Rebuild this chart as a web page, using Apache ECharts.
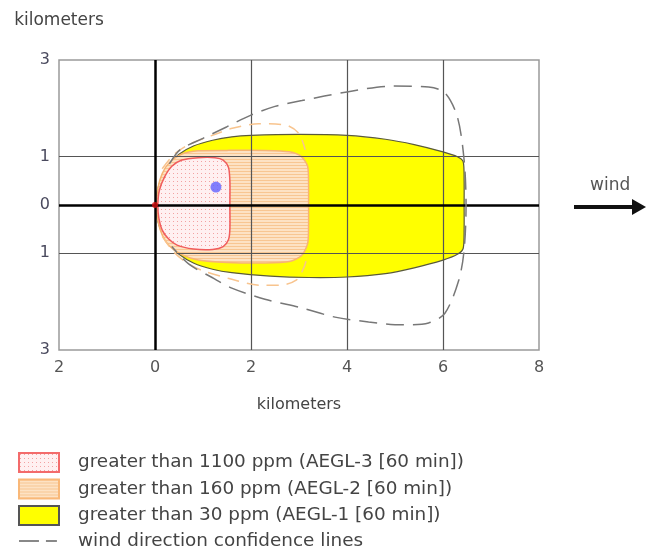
<!DOCTYPE html>
<html><head><meta charset="utf-8">
<script src="https://cdn.jsdelivr.net/npm/echarts@6/dist/echarts.min.js"></script>
<style>html,body{margin:0;padding:0;background:#fff}#c{width:646px;height:549px}</style>
</head><body><div id="c"></div>
<script>
// ---- data ----
const xTicks = [-2, 0, 2, 4, 6, 8];
const xTickLabels = ['2', '0', '2', '4', '6', '8'];
const yTicks = [3, 1, 0, -1, -3];
const yTickLabels = ['3', '1', '0', '1', '3'];
const xAxisTitle = 'kilometers';
const yAxisTitle = 'kilometers';
const windLabel = 'wind';
const legendNames = [
  'greater than 1100 ppm (AEGL-3 [60 min])',
  'greater than 160 ppm (AEGL-2 [60 min])',
  'greater than 30 ppm (AEGL-1 [60 min])',
  'wind direction confidence lines'
];
const aegl3Zone = [[0.06,0],[0.09,0.3],[0.2,0.58],[0.35,0.8],[0.56,0.93],[0.9,0.98],[1.25,0.98],[1.42,0.93],[1.53,0.78],[1.56,0.5],[1.56,0],[1.56,-0.5],[1.53,-0.72],[1.42,-0.86],[1.2,-0.92],[0.8,-0.91],[0.46,-0.83],[0.28,-0.7],[0.15,-0.52],[0.08,-0.27]];
const aegl2Zone = [[0.03,0],[0.06,0.35],[0.15,0.65],[0.3,0.88],[0.55,1.05],[0.9,1.12],[1.5,1.13],[2.3,1.13],[2.8,1.1],[3.05,1.0],[3.18,0.8],[3.2,0.4],[3.2,0],[3.2,-0.4],[3.18,-0.8],[3.05,-1.05],[2.8,-1.17],[2.3,-1.2],[1.5,-1.19],[0.9,-1.14],[0.55,-1.02],[0.3,-0.85],[0.15,-0.62],[0.06,-0.33]];
const aegl1Zone = [[0.02,0],[0.05,0.3],[0.15,0.6],[0.3,0.85],[0.5,1.05],[0.8,1.22],[1.2,1.34],[1.6,1.41],[2,1.44],[3,1.46],[4,1.44],[4.8,1.36],[5.4,1.25],[6.0,1.1],[6.3,1.0],[6.42,0.9],[6.44,0.5],[6.44,0],[6.44,-0.5],[6.42,-0.9],[6.3,-1.02],[6.0,-1.14],[5.4,-1.3],[4.8,-1.42],[4,-1.49],[3.2,-1.5],[2.4,-1.47],[1.6,-1.4],[1.2,-1.33],[0.8,-1.2],[0.5,-1.02],[0.3,-0.82],[0.15,-0.58],[0.05,-0.3]];
const windConfidence = [[0.3,0.85],[0.52,1.14],[1.0,1.38],[1.5,1.62],[2.0,1.86],[2.5,2.04],[3.06,2.16],[4.0,2.34],[4.94,2.46],[5.7,2.44],[6.04,2.32],[6.3,1.82],[6.44,0.93],[6.48,0],[6.44,-0.93],[6.33,-1.55],[6.04,-2.24],[5.7,-2.44],[5.15,-2.48],[4.45,-2.42],[3.75,-2.32],[3.06,-2.13],[2.29,-1.95],[1.6,-1.72],[1.19,-1.5],[0.7,-1.22],[0.35,-0.86]];
const aegl2ConfidenceTop = [[0.15,0.75],[0.4,1.05],[0.7,1.25],[1.0,1.37],[1.33,1.49],[1.54,1.57],[2.16,1.68],[2.7,1.66],[2.99,1.49],[3.13,1.14]];
const aegl2ConfidenceBottom = [[0.15,-0.65],[0.4,-0.98],[0.7,-1.22],[1.0,-1.36],[1.54,-1.52],[2.2,-1.66],[2.6,-1.66],[2.95,-1.55],[3.1,-1.3],[3.15,-1.15]];
const sourcePoint = [[0, 0]];
const receptorPoint = [[1.27, 0.37]];
const gridXLines = [2, 4, 6];
const gridYLines = [1, -1];

// ---- patterns ----
function makePattern(w, h, bg, draw) {
  const c = document.createElement('canvas');
  c.width = w; c.height = h;
  const g = c.getContext('2d');
  g.fillStyle = bg; g.fillRect(0, 0, w, h);
  draw(g);
  return { image: c, repeat: 'repeat' };
}
const pinkPattern = makePattern(4, 4, '#fff0f1', g => { g.fillStyle = '#f3a2a2'; g.fillRect(1, 1, 1, 1); });
const orangePattern = makePattern(4, 3, '#fde2c4', g => { g.fillStyle = '#f8c692'; g.fillRect(0, 0, 4, 1); });

const FONT = 'DejaVu Sans';

function zoneSeries(name, pts, fill, stroke, lw, z) {
  return {
    type: 'custom', name: name, z: z, data: pts, encode: { x: 0, y: 1 },
    itemStyle: { color: fill, borderColor: stroke },
    renderItem: function (params, api) {
      if (params.dataIndex !== 0) return null;
      const points = pts.map(p => api.coord(p));
      return { type: 'polygon', shape: { points: points, smooth: 0.25 },
        style: { fill: fill, stroke: stroke, lineWidth: lw } };
    }
  };
}

const chart = echarts.init(document.getElementById('c'), null, { renderer: 'canvas' });
chart.setOption({
  animation: false,
  backgroundColor: '#fff',
  grid: { left: 59, right: 107, top: 60, bottom: 199, show: true, borderColor: '#9a9a9a', borderWidth: 1.5, backgroundColor: 'transparent' },
  xAxis: {
    type: 'value', min: -2, max: 8, interval: 2,
    name: xAxisTitle, nameLocation: 'middle', nameGap: 47,
    nameTextStyle: { fontFamily: FONT, fontSize: 16, color: '#444' },
    axisLine: { show: false, onZero: false }, axisTick: { show: false }, splitLine: { show: false },
    axisLabel: { margin: 10, fontFamily: FONT, fontSize: 16, color: '#555',
      formatter: v => { const i = xTicks.indexOf(v); return i >= 0 ? xTickLabels[i] : ''; } }
  },
  yAxis: {
    type: 'value', min: -3, max: 3, interval: 1,
    name: yAxisTitle, nameLocation: 'end', nameGap: 31,
    nameTextStyle: { fontFamily: FONT, fontSize: 17, color: '#444', align: 'center' },
    axisLine: { show: false, onZero: false }, axisTick: { show: false }, splitLine: { show: false },
    axisLabel: { margin: 9, fontFamily: FONT, fontSize: 16, color: '#4a4a5e',
      formatter: v => { const i = yTicks.indexOf(v); return i >= 0 ? yTickLabels[i] : ''; } }
  },
  legend: {
    orient: 'vertical', left: 18, top: 452, height: 120, itemWidth: 40, itemHeight: 19, itemGap: 5.5,
    selectedMode: false, padding: 0,
    textStyle: { fontFamily: FONT, fontSize: 18.4, color: '#444', padding: [0, 0, 0, 14] },
    data: [
      { name: legendNames[0], icon: 'rect', itemStyle: { color: pinkPattern, borderColor: '#f36b6b', borderWidth: 2 } },
      { name: legendNames[1], icon: 'rect', itemStyle: { color: orangePattern, borderColor: '#f9b878', borderWidth: 2 } },
      { name: legendNames[2], icon: 'rect', itemStyle: { color: '#ffff00', borderColor: '#555', borderWidth: 2 } },
      { name: legendNames[3], icon: 'path://M0,0h0.1v0.1h-0.1zM40,18.9h0.1v0.1h-0.1zM0,8.5h20v2h-20zM27,8.5h11v2h-11z', itemStyle: { color: '#888', borderWidth: 0 } }
    ]
  },
  graphic: [
    { type: 'text', left: 590, top: 177, style: { text: windLabel, fontFamily: FONT, fontSize: 17, fill: '#555' } },
    { type: 'line', shape: { x1: 574, y1: 207, x2: 634, y2: 207 }, style: { stroke: '#111', lineWidth: 4 } },
    { type: 'polygon', shape: { points: [[632, 199], [646, 207], [632, 215]] }, style: { fill: '#111' } }
  ],
  series: [
    zoneSeries(legendNames[2], aegl1Zone, '#ffff00', '#5a5a3a', 1.2, 2),
    zoneSeries(legendNames[1], aegl2Zone, orangePattern, '#f7b474', 1.5, 3),
    zoneSeries(legendNames[0], aegl3Zone, pinkPattern, '#f05c5c', 1.5, 4),
    { type: 'line', name: 'aegl2-top', data: aegl2ConfidenceTop, smooth: 0.3, symbol: 'none', z: 5,
      lineStyle: { color: '#f8c48e', width: 1.5, type: [12, 8] } },
    { type: 'line', name: 'aegl2-bottom', data: aegl2ConfidenceBottom, smooth: 0.3, symbol: 'none', z: 5,
      lineStyle: { color: '#f8c48e', width: 1.5, type: [12, 8] } },
    { type: 'line', name: legendNames[3], data: windConfidence, smooth: 0.3, symbol: 'none', z: 5,
      itemStyle: { color: '#888' },
      lineStyle: { color: '#777', width: 1.5, type: [18, 9] } },
    { type: 'scatter', name: 'grid', data: [], z: 6, silent: true,
      markLine: { silent: true, symbol: 'none', label: { show: false },
        lineStyle: { color: '#555', width: 1.2, type: 'solid' },
        data: gridXLines.map(v => ({ xAxis: v })).concat(gridYLines.map(v => ({ yAxis: v }))) } },
    { type: 'scatter', name: 'axes', data: [], z: 7, silent: true,
      markLine: { silent: true, symbol: 'none', label: { show: false },
        lineStyle: { color: '#000', width: 2.5, type: 'solid' },
        data: [{ xAxis: 0 }, { yAxis: 0 }] } },
    { type: 'scatter', name: 'source', data: sourcePoint, symbolSize: 6, z: 8, itemStyle: { color: '#d81010' } },
    { type: 'scatter', name: 'receptor', data: receptorPoint, symbolSize: 11, z: 8, itemStyle: { color: '#6262ff' } }
  ]
});
</script>
</body></html>
